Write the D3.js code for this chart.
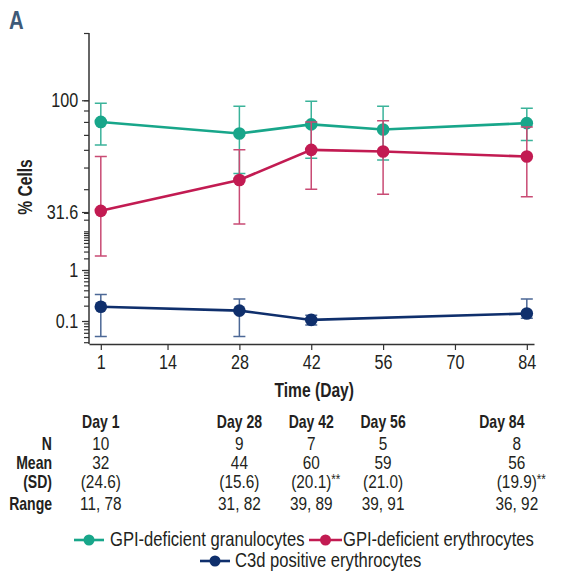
<!DOCTYPE html>
<html>
<head>
<meta charset="utf-8">
<script src="https://cdn.jsdelivr.net/npm/d3@7/dist/d3.min.js"></script>
<style>
  body { margin: 0; background: #fff; }
  svg text { font-family: "Liberation Sans", Arial, sans-serif; fill: #231f20; }
</style>
</head>
<body>
<div id="chart"></div>
<script>
// data
const days = [1, 28, 42, 56, 84];
const xTicks = [1, 14, 28, 42, 56, 70, 84];
const yLabels = [0.1, 1, 31.6, 100];

const granMean = [80, 71, 78, 74, 79];
const granLow = [63, 47, 55, 54, 66];
const granHigh = [97, 94, 99, 94, 92];

const eryMean = [32, 44, 60, 59, 56];
const eryLow = [2.3, 15.5, 40, 38, 37];
const eryHigh = [56, 60, 80, 81, 76];

const c3dDays = [1, 28, 42, 84];
const c3dMean = [0.19, 0.16, 0.105, 0.14];
const c3dLow = [0.051, 0.051, 0.084, 0.113];
const c3dHigh = [0.33, 0.27, 0.13, 0.27];

const tableN = [10, 9, 7, 5, 8];
const tableMean = [32, 44, 60, 59, 56];
const tableSD = [`(24.6)`, `(15.6)`, `(20.1)`, `(21.0)`, `(19.9)`];
const tableSDMark = [``, ``, `**`, ``, `**`];
const tableRange = [`11, 78`, `31, 82`, `39, 89`, `39, 91`, `36, 92`];

const seriesNames = [`GPI-deficient granulocytes`, `GPI-deficient erythrocytes`, `C3d positive erythrocytes`];

const W = 562, H = 571;
const NARROW = 0.83, NARROW_BOLD = 0.78;
const svg = d3.select(`#chart`).append(`svg`).attr(`width`, W).attr(`height`, H);

// no condensed face installed, so squeeze text horizontally
function label(parent, x, y, str, size, bold, anchor) {
  return parent.append(`text`)
    .attr(`transform`, `translate(${x},${y}) scale(${bold ? NARROW_BOLD : NARROW},1)`)
    .attr(`text-anchor`, anchor || `start`)
    .style(`font-size`, `${size}px`)
    .style(`font-weight`, bold ? `bold` : `normal`)
    .text(str);
}

const x = d3.scaleLinear().domain([-1.3, 85.4]).range([89, 534]);
// the value axis is log but with uneven spacing per segment
const yLog = d3.scaleLinear()
  .domain([Math.log10(0.037), -1, 0, 1.5, Math.log10(200)])
  .range([344, 321, 270, 212, 33]);
const y = v => yLog(Math.log10(v));

const series = [
  { name: seriesNames[0], color: `#18a68a`, err: `#3bb39a`, days: days, mean: granMean, low: granLow, high: granHigh },
  { name: seriesNames[1], color: `#c21b52`, err: `#c94b74`, days: days, mean: eryMean, low: eryLow, high: eryHigh },
  { name: seriesNames[2], color: `#0f2f6c`, err: `#4c6896`, days: c3dDays, mean: c3dMean, low: c3dLow, high: c3dHigh }
];

// panel letter
label(svg, 9, 29, `A`, 26, true).style(`fill`, `#3e5a78`);

// y axis
const yMinor = [];
[0.01, 0.1, 1, 10, 100].forEach(p => d3.range(1, 10).forEach(k => {
  const v = p * k;
  if (v >= 0.037 && v <= 200) yMinor.push(v);
}));
svg.append(`g`).attr(`transform`, `translate(89,0)`)
  .call(d3.axisLeft(yLog).tickValues(yMinor.map(v => Math.log10(v))).tickSize(5).tickFormat(``))
  .call(g => g.select(`.domain`).remove())
  .call(g => g.selectAll(`line`).attr(`stroke`, `#333`).attr(`stroke-width`, 1.2));
svg.append(`g`).attr(`transform`, `translate(89,0)`)
  .call(d3.axisLeft(yLog).tickValues(yLabels.map(v => Math.log10(v))).tickSize(7).tickPadding(6)
    .tickFormat((d, i) => String(yLabels[i])))
  .call(g => g.select(`.domain`).attr(`d`, `M0,${yLog.range()[4]}V344`).attr(`stroke`, `#333`).attr(`stroke-width`, 1.5))
  .call(g => g.selectAll(`line`).attr(`stroke`, `#333`).attr(`stroke-width`, 1.2))
  .call(g => g.selectAll(`text`).style(`font-size`, `19.5px`).attr(`fill`, `#231f20`)
    .attr(`transform`, `scale(${NARROW},1)`));

// x axis
svg.append(`g`).attr(`transform`, `translate(0,344)`)
  .call(d3.axisBottom(x).tickValues(xTicks).tickSize(6).tickPadding(5).tickSizeOuter(0))
  .call(g => g.select(`.domain`).attr(`stroke`, `#333`).attr(`stroke-width`, 1.5))
  .call(g => g.selectAll(`line`).attr(`stroke`, `#333`).attr(`stroke-width`, 1.2))
  .call(g => g.selectAll(`text`).style(`font-size`, `19.5px`).attr(`fill`, `#231f20`)
    .attr(`transform`, `scale(${NARROW},1)`));

label(svg, x(42) + 3, 397, `Time (Day)`, 20, true, `middle`);
svg.append(`text`).attr(`transform`, `translate(32,187) rotate(-90) scale(${NARROW_BOLD},1)`)
  .attr(`text-anchor`, `middle`)
  .style(`font-size`, `20px`).style(`font-weight`, `bold`).text(`% Cells`);

// series: error bars, lines, markers
series.forEach(s => {
  const pts = s.days.map((d, i) => ({ day: d, mean: s.mean[i], low: s.low[i], high: s.high[i] }));
  const g = svg.append(`g`);

  g.selectAll(`.err`).data(pts).enter().append(`path`)
    .attr(`class`, `err`)
    .attr(`fill`, `none`).attr(`stroke`, s.err).attr(`stroke-width`, 1.5)
    .attr(`d`, d => `M${x(d.day)},${y(d.low)}V${y(d.high)}` +
      `M${x(d.day) - 6},${y(d.low)}H${x(d.day) + 6}` +
      `M${x(d.day) - 6},${y(d.high)}H${x(d.day) + 6}`);

  g.append(`path`).datum(pts)
    .attr(`fill`, `none`).attr(`stroke`, s.color).attr(`stroke-width`, 2.6)
    .attr(`d`, d3.line().x(d => x(d.day)).y(d => y(d.mean)));

  g.selectAll(`circle`).data(pts).enter().append(`circle`)
    .attr(`cx`, d => x(d.day)).attr(`cy`, d => y(d.mean)).attr(`r`, 6.3)
    .attr(`fill`, s.color);
});

// table under the axis
const colX = d => d === 84 ? x(d) - 10 : x(d);
const rows = [
  { label: `N`, y: 450, vals: tableN },
  { label: `Mean`, y: 469, vals: tableMean },
  { label: `(SD)`, y: 488, vals: tableSD },
  { label: `Range`, y: 510, vals: tableRange }
];
days.forEach(d => label(svg, d === 84 ? x(d) - 25 : x(d), 428, `Day ${d}`, 18, true, `middle`));

rows.forEach(r => {
  label(svg, 52, r.y, r.label, 18, true, `end`);
  r.vals.forEach((v, i) => label(svg, colX(days[i]), r.y, v, 18.5, false, `middle`));
});

// ** marks after the SD values
tableSDMark.forEach((m, i) => {
  if (m) label(svg, colX(days[i]) + 20, 484, m, 14, false);
});

// legend
const legendPos = [
  { x: 74, y: 546, w: 30, gap: 6 },
  { x: 309, y: 546, w: 33, gap: 1 },
  { x: 200, y: 567, w: 30, gap: 5 }
];
series.forEach((s, i) => {
  const p = legendPos[i];
  const g = svg.append(`g`).attr(`transform`, `translate(${p.x},${p.y - 6})`);
  g.append(`line`).attr(`x1`, 0).attr(`x2`, p.w).attr(`stroke`, s.color).attr(`stroke-width`, 2.6);
  g.append(`circle`).attr(`cx`, p.w / 2).attr(`r`, 5.5).attr(`fill`, s.color);
  label(g, p.w + p.gap, 6, s.name, 20, false);
});
</script>
</body>
</html>
